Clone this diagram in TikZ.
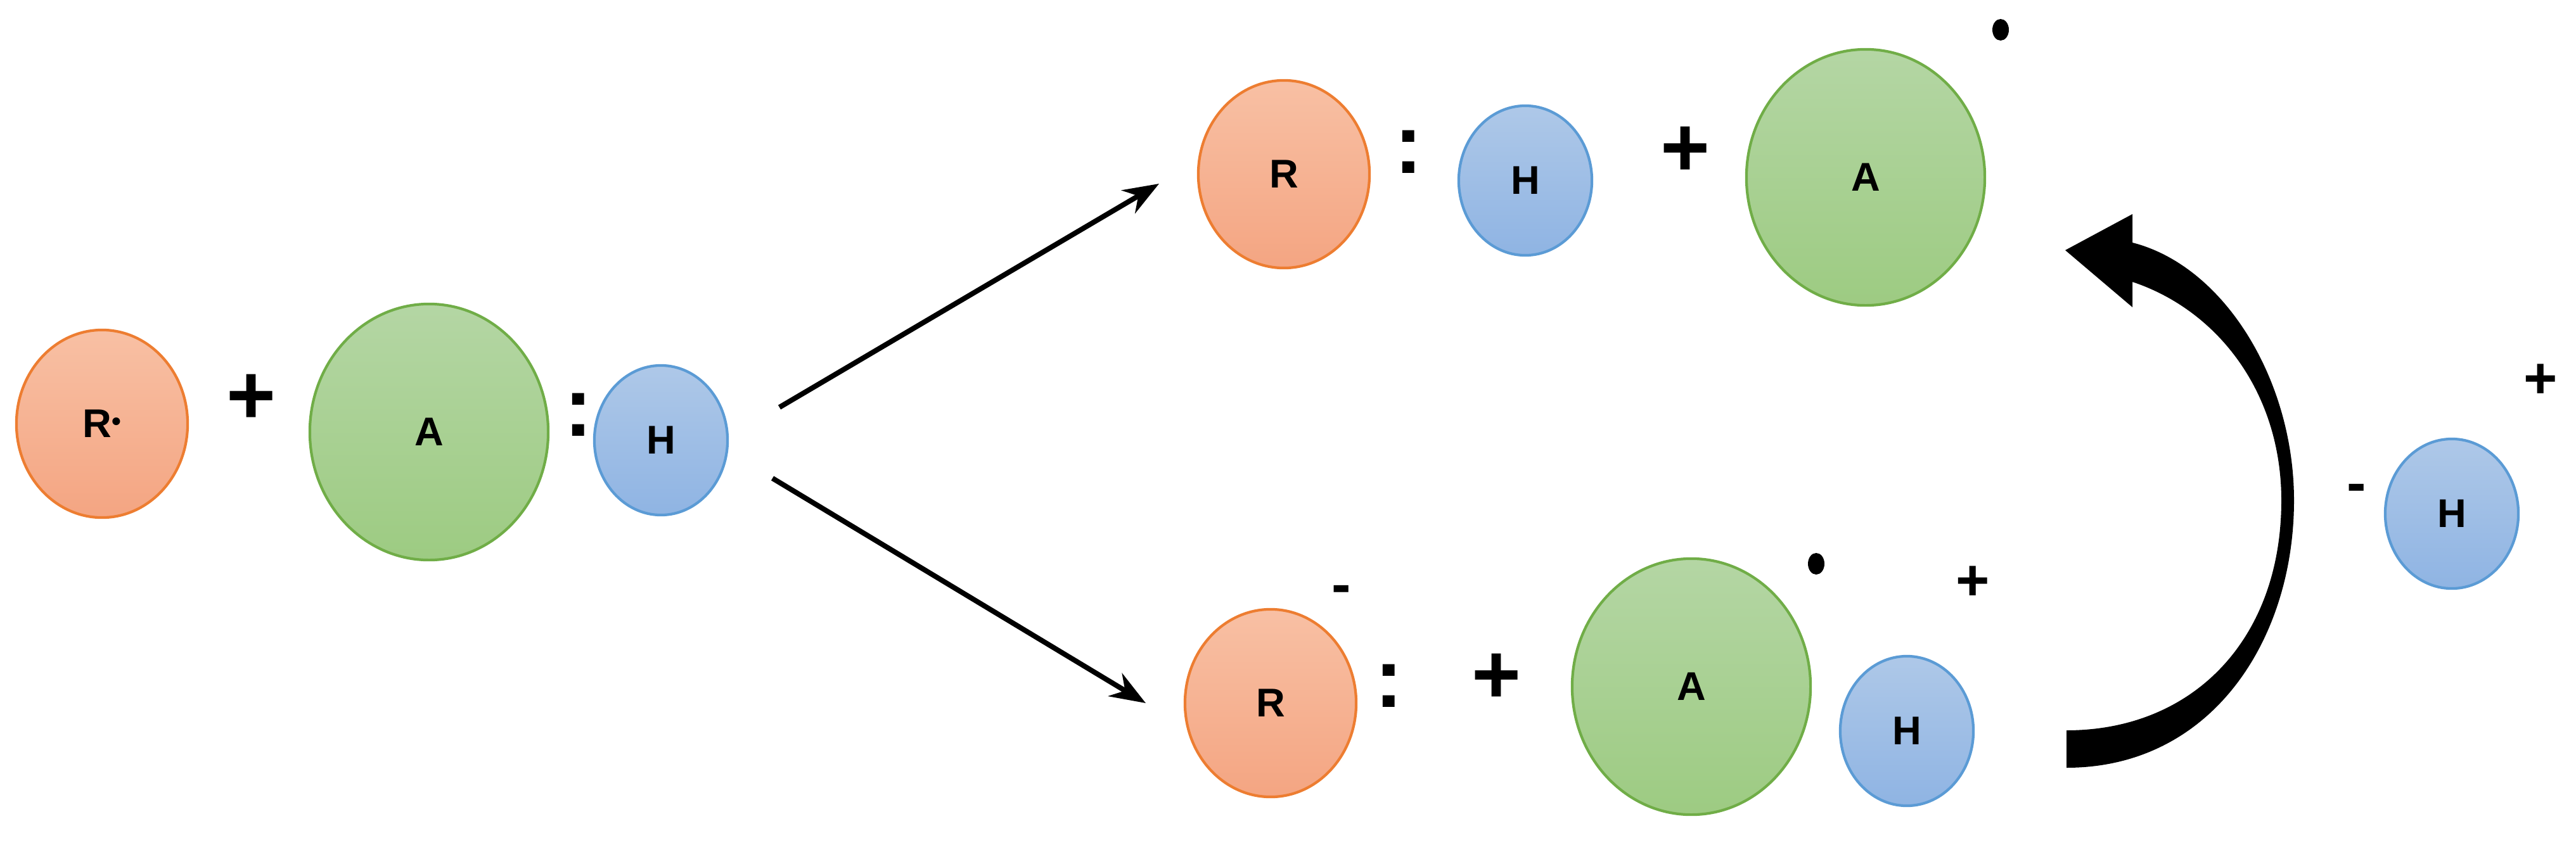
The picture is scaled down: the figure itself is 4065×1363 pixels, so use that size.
\documentclass[tikz,border=0pt]{standalone}
\usepackage{fontspec}
\setmainfont{Liberation Sans}
\usetikzlibrary{shapes.geometric,arrows.meta}
\begin{document}
\begin{tikzpicture}[x=0.01cm,y=-0.01cm,
  atom/.style={ellipse,line width=1.2pt,inner sep=0pt,font=\fontsize{18}{20}\selectfont\bfseries},
  rr/.style={atom,draw={rgb,255:red,237;green,125;blue,49},top color={rgb,255:red,248;green,192;blue,164},bottom color={rgb,255:red,244;green,165;blue,130},minimum width=2.70cm,minimum height=2.96cm},
  aa/.style={atom,draw={rgb,255:red,112;green,173;blue,71},top color={rgb,255:red,180;green,214;blue,164},bottom color={rgb,255:red,157;green,203;blue,130},minimum width=3.76cm,minimum height=4.04cm},
  hh/.style={atom,draw={rgb,255:red,91;green,155;blue,213},top color={rgb,255:red,174;green,200;blue,232},bottom color={rgb,255:red,143;green,180;blue,227},minimum width=2.10cm,minimum height=2.36cm},
  sym/.style={font=\fontsize{38}{40}\selectfont\bfseries,inner sep=0pt},
  ssym/.style={font=\fontsize{26}{28}\selectfont\bfseries,inner sep=0pt},
  rad/.style={fill=black,ellipse,minimum width=0.26cm,minimum height=0.34cm,inner sep=0pt},
  arr/.style={line width=2.3pt,-{Stealth[length=16pt,width=12pt]}}]
\useasboundingbox (0,0) rectangle (4065,1363);
% left
\node[rr] (r1) at (161,669) {R\raisebox{0.35ex}{\fontsize{12}{12}\selectfont•}};
\node[sym] (p1) at (397,630) {+};
\node[aa] (a1) at (677,682) {A};
\node[sym] (c1) at (913,655) {:};
\node[hh] (h1) at (1043,695) {H};
% top
\node[rr] (r2) at (2026,275) {R};
\node[sym] (c2) at (2223,240) {:};
\node[hh] (h2) at (2407,285) {H};
\node[sym] (p2) at (2659,239) {+};
\node[aa] (a2) at (2944,280) {A};
\node[rad] (d2) at (3157,47) {};
% bottom
\node[rr] (r3) at (2005,1110) {R};
\node[ssym] (m3) at (2117,939) {-};
\node[sym] (c3) at (2192,1083) {:};
\node[sym] (p3) at (2361,1071) {+};
\node[aa] (a3) at (2669,1084) {A};
\node[rad] (d3) at (2866,890) {};
\node[ssym] (p4) at (3113,921) {+};
\node[hh] (h3) at (3009,1154) {H};
% right
\node[hh] (h4) at (3869,811) {H};
\node[ssym] (m4) at (3719,779) {-};
\node[ssym] (p5) at (4009,602) {+};
% arrows
\coordinate (s1) at (1230,643);
\coordinate (e1) at (1829,290);
\coordinate (s2) at (1219,755);
\coordinate (e2) at (1808,1110);
\draw[arr] (s1) -- (e1);
\draw[arr] (s2) -- (e2);
% curved arrow
\fill (3261,1212) .. controls (3490,1212) and (3620,1010) .. (3620,790)
  .. controls (3620,600) and (3510,420) .. (3365,383)
  -- (3365,338) -- (3259,395) -- (3365,485) -- (3365,445)
  .. controls (3500,490) and (3600,620) .. (3600,790)
  .. controls (3600,1010) and (3460,1153) .. (3261,1153) -- cycle;
\end{tikzpicture}
\end{document}
